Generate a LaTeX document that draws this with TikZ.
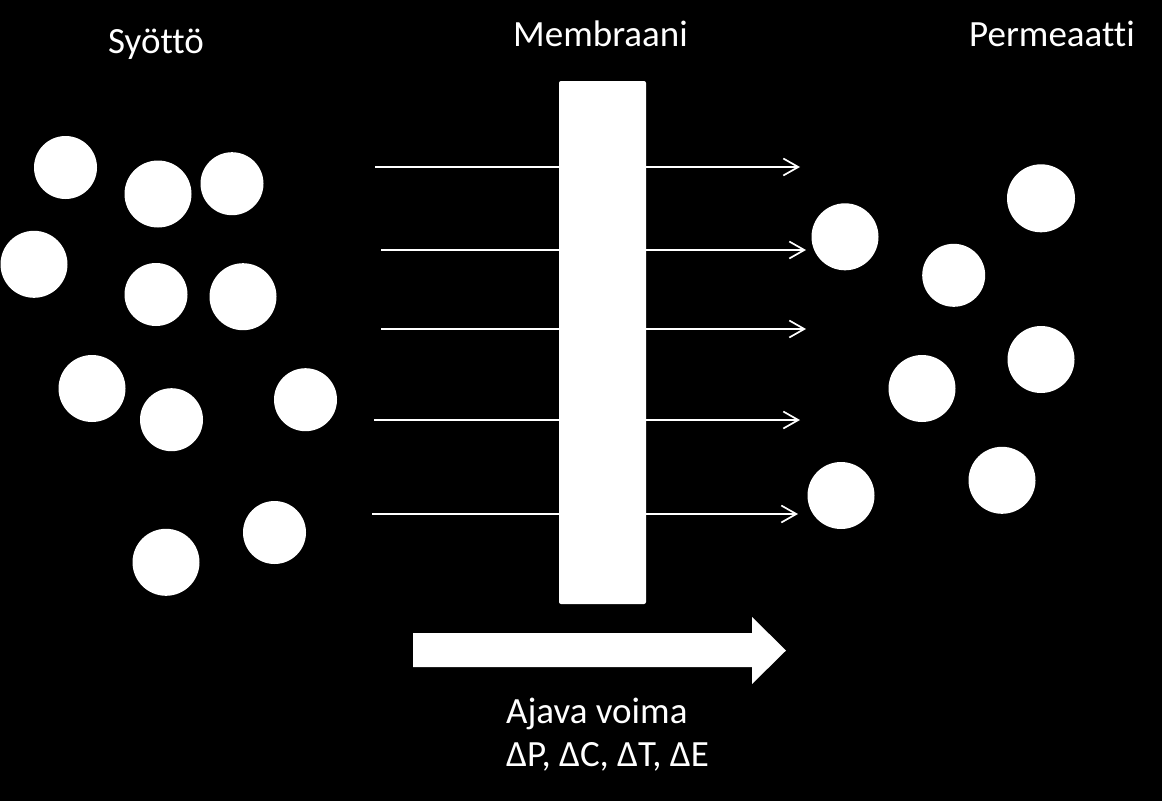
\documentclass[tikz,border=0pt]{standalone}
\usepackage{fontspec}
\setmainfont{Carlito}[Ligatures={NoCommon}]
\usetikzlibrary{arrows.meta}
\begin{document}
\begin{tikzpicture}[x=1pt,y=-1pt,
  ball/.style={circle,fill=white,draw=none,inner sep=0pt},
  lbl/.style={text=white,anchor=base west,inner sep=0pt,font=\fontsize{37}{44}\selectfont},
  flow/.style={white,line width=1.7pt,-{Straight Barb[length=15pt,width=17pt,line width=1.7pt]}},
  membr/.style={fill=white,rounded corners=2pt}
]
\fill[black] (0,0) rectangle (1162,801);
\useasboundingbox (0,0) rectangle (1162,801);

% titles
\node[lbl] (syotto) at (108,53.3) {Syöttö};
\node[lbl] (membraani) at (513,46.7) {Membraani};
\node[lbl] (permeaatti) at (969,46.7) {Permeaatti};

% flow lines
\coordinate (a1) at (375,167);   \coordinate (b1) at (800,167);
\coordinate (a2) at (381,250);   \coordinate (b2) at (806,250);
\coordinate (a3) at (381,329);   \coordinate (b3) at (806,329);
\coordinate (a4) at (374,420);   \coordinate (b4) at (800,420);
\coordinate (a5) at (372,514);   \coordinate (b5) at (798,514);
\foreach \i in {1,...,5} {\draw[flow] (a\i) -- (b\i);}

% membrane
\node[membr,minimum width=87pt,minimum height=523pt,inner sep=0pt] (mem) at (602.5,342.5) {};

% feed particles
\node[ball,minimum size=63pt] (f1) at (65.5,167.5) {};
\node[ball,minimum size=67pt] (f2) at (158,194) {};
\node[ball,minimum size=63pt] (f3) at (232,183.7) {};
\node[ball,minimum size=67pt] (f4) at (34,264.3) {};
\node[ball,minimum size=63pt] (f5) at (156,294.5) {};
\node[ball,minimum size=67pt] (f6) at (243,296.7) {};
\node[ball,minimum size=67pt] (f7) at (92,388.5) {};
\node[ball,minimum size=63pt] (f8) at (171.5,419.7) {};
\node[ball,minimum size=63pt] (f9) at (305.5,399.7) {};
\node[ball,minimum size=63pt] (f10) at (274.5,532.5) {};
\node[ball,minimum size=67pt] (f11) at (166,562.3) {};

% permeate particles
\node[ball,minimum size=68pt] (p1) at (1041,198.3) {};
\node[ball,minimum size=67pt] (p2) at (845,236.8) {};
\node[ball,minimum size=63pt] (p3) at (953.7,275.3) {};
\node[ball,minimum size=67pt] (p4) at (1041,359.5) {};
\node[ball,minimum size=67pt] (p5) at (922,388.5) {};
\node[ball,minimum size=67pt] (p6) at (1002,480.3) {};
\node[ball,minimum size=67pt] (p7) at (841,495.5) {};

% driving force arrow
\fill[white] (413,633) -- (752,633) -- (752,617) -- (786,650.5) -- (752,684) -- (752,667) -- (413,667) -- cycle;
\node[lbl] (ajava) at (506,723) {Ajava voima};
\node[lbl] (delta) at (506,766.7) {ΔP, ΔC, ΔT, ΔE};
\end{tikzpicture}
\end{document}
